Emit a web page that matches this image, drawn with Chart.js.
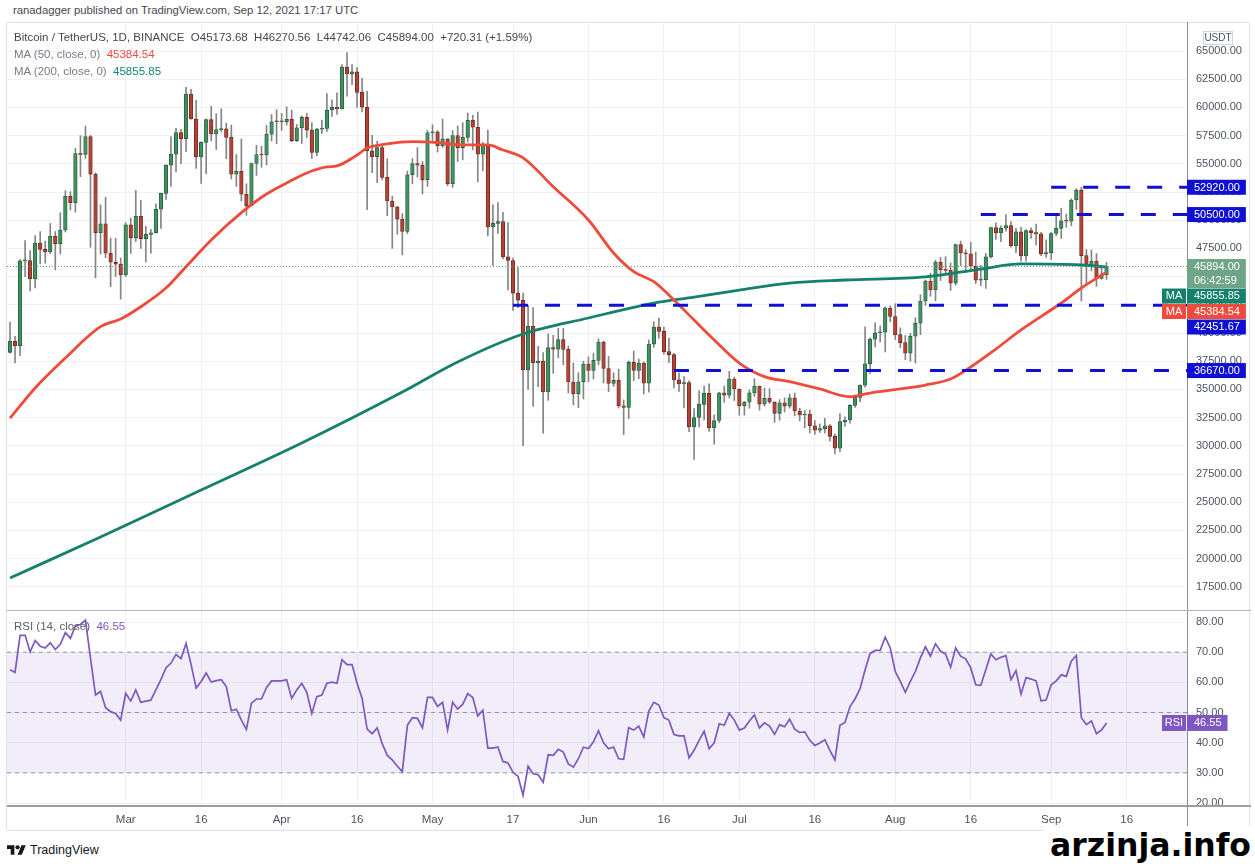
<!DOCTYPE html>
<html>
<head>
<meta charset="utf-8">
<script src="https://cdn.jsdelivr.net/npm/chart.js@4.4.1/dist/chart.umd.min.js"></script>
<style>
  html,body{margin:0;padding:0;background:#fff;}
  body{width:1255px;height:864px;overflow:hidden;position:relative;font-family:"Liberation Sans",Arial,sans-serif;}
  .abs{position:absolute;}
  #frame{left:6px;top:22px;width:1244px;height:809px;border:1px solid #e0e3eb;border-radius:3px;box-sizing:border-box;}
  #pw{left:7px;top:22px;width:1244px;height:589px;}
  #rw{left:7px;top:611px;width:1244px;height:221px;}
  .sep{background:#b2b5be;height:1px;}
  .txt{white-space:pre;font-size:11.5px;line-height:13px;}
  .g{color:#787b86;}
  #wm{right:4px;top:826px;font-family:"DejaVu Sans",sans-serif;font-weight:bold;font-size:31.5px;line-height:38px;color:#000;background:#fff;padding-left:6px;letter-spacing:0px;}
</style>
</head>
<body>
<div id="frame" class="abs"></div>
<div id="pw" class="abs"><canvas id="price"></canvas></div>
<div id="rw" class="abs"><canvas id="rsi"></canvas></div>
<div class="abs sep" style="left:7px;top:610px;width:1244px;"></div>
<div class="abs" style="left:7px;top:805px;width:1244px;height:2px;background:#9a9da4;"></div>
<div class="abs" style="left:1187px;top:806px;width:1px;height:26px;background:#8c8f97;"></div>

<div class="abs txt" style="left:13px;top:4px;color:#434651;font-size:11.3px;">ranadagger published on TradingView.com, Sep 12, 2021 17:17 UTC</div>
<div class="abs txt" style="left:14px;top:31px;color:#434651;">Bitcoin / TetherUS, 1D, BINANCE&nbsp; O45173.68&nbsp; H46270.56&nbsp; L44742.06&nbsp; C45894.00&nbsp; +720.31 (+1.59%)</div>
<div class="abs txt" style="left:14px;top:48px;"><span class="g">MA (50, close, 0)</span>&nbsp; <span style="color:#ef4b3c">45384.54</span></div>
<div class="abs txt" style="left:14px;top:65px;"><span class="g">MA (200, close, 0)</span>&nbsp; <span style="color:#15857a">45855.85</span></div>
<div class="abs txt" style="left:14px;top:620px;"><span style="color:#5d606b">RSI (14, close)</span>&nbsp; <span style="color:#7e57c2">46.55</span></div>

<div class="abs" style="left:7px;top:843px;">
  <svg width="19" height="14" viewBox="0 3 36 20"><path d="M14 22H7V11H0V4h14v18zM28 22h-8l7.5-18h8L28 22z" fill="#131722"/><circle cx="20" cy="8" r="4" fill="#131722"/></svg>
</div>
<div class="abs txt" style="left:30px;top:843px;font-size:12.5px;line-height:14px;color:#131722;">TradingView</div>
<div id="wm" class="abs">arzinja.info</div>

<script>
// ---------- DATA (day index 0 = 2021-02-06, daily candles BTC/USDT) ----------
const open = [
38290,39260,38870,46400,46420,44810,47970,47410,47190,48580,
47910,49130,52120,51550,55910,55840,57410,54090,48890,49680,
47070,46280,46110,45140,49590,48440,50350,48370,48750,48880,
50970,52380,54880,55850,57770,57220,61190,58970,55610,56900,
58910,57650,58030,58100,57350,54080,54340,52300,51290,55030,
55820,55780,57630,58730,58740,58720,58950,57060,58200,59130,
57990,56000,58080,58130,59770,60000,59860,63580,62960,63160,
61330,60010,56150,55630,56430,53790,51700,51190,50100,49000,
54030,55030,54880,53580,57750,57830,56610,57210,53240,57510,
56440,57350,58860,58240,55860,56700,49400,49720,49880,46760,
46430,43540,42910,36730,40600,37340,37520,34770,38710,38570,
39410,38550,35660,34610,35680,37250,36690,37570,39190,36850,
35520,35800,33550,33410,37390,36690,37340,35550,39020,40520,
40140,38350,38090,35840,35480,35600,31680,32510,33680,34660,
31600,32240,34700,34490,35910,35040,33540,33860,34690,35290,
33690,34220,33860,32880,33810,33510,34260,33090,32730,32820,
31780,31390,31530,31780,30840,29790,32140,32290,33580,34290,
35380,37270,39460,40020,40070,42210,41460,39850,39150,38210,
39720,40870,42840,44610,43820,46290,45590,45550,44420,47830,
47100,47020,45920,44690,44720,46760,49340,48870,49290,49530,
47710,48970,46840,49070,48900,48800,47020,47130,48820,49280,
49940,49920,51790,52660,46860,46070,46370,44850,45173.68];
const high = [
40960,39700,46500,48200,47310,48630,48990,48150,49710,49000,
50660,52620,52530,56370,57500,58350,57530,54180,51370,52040,
48420,48390,46650,49790,50200,52640,51770,49450,49200,51450,
52400,54900,57390,58150,58060,61790,61600,60630,56940,58980,
60100,59450,59880,58600,58430,55830,57200,53230,55080,56640,
56560,58400,59370,59800,59470,60050,59760,58490,59250,59480,
58650,58150,58880,61220,60670,61300,63800,64850,63800,63520,
62570,61430,57530,57000,56760,55450,52130,51200,50580,54360,
55460,56430,55200,57960,58460,57940,58970,57220,57950,58360,
58650,59500,59300,59590,56900,58000,51370,51560,50700,49800,
46640,45800,43550,42450,42250,38830,38270,39920,39800,40440,
40410,38850,37340,36490,37500,37890,38220,39480,39290,37920,
36480,36790,34070,37530,38400,37690,37440,39380,41000,41330,
40530,39560,38200,36460,36140,35750,33300,34880,35300,35500,
32730,34750,35300,36600,36100,35040,33940,34950,35950,35290,
35110,35060,33920,34100,34260,34600,34680,33340,33130,33180,
32250,31940,32440,31890,31040,32860,32580,33650,34500,35400,
40550,39540,40900,40640,42320,42410,42600,40460,39780,39970,
41350,43390,44700,45310,46450,46700,46780,46220,47890,48150,
47390,48050,47160,46000,47050,49380,49760,49500,50500,49870,
49280,49380,49170,49330,49650,48920,48250,48940,50450,51050,
50560,51900,52800,52920,47400,47360,47040,45970,46270.56];
const low = [
38220,37350,37990,45000,43730,43990,46130,46200,47040,45600,
47010,48950,50900,50710,53860,55480,47600,44890,47000,46670,
44110,45000,43000,45000,47050,48100,47500,46300,47070,48880,
49270,51840,53000,54270,55010,56080,58950,54600,53270,54120,
57030,56270,57820,55450,53650,53000,51700,50430,51290,53970,
54690,54900,57020,56770,57960,58430,56960,56960,56800,57330,
55470,55700,57700,57870,59200,59370,59860,61000,62020,60000,
59600,50930,54220,53330,53600,50400,47500,48750,46930,48810,
53220,53820,52330,53010,57060,56040,56440,53050,52900,55200,
55350,56930,56230,53400,54370,48600,46000,48820,46560,43830,
42000,42250,30000,35000,33490,35250,31110,34030,36420,37800,
37170,34680,33630,33380,34150,35670,35920,37170,35570,34800,
35260,33350,31000,32400,35780,35940,34600,34760,38730,39510,
38120,37370,35130,34820,33350,31250,28800,31680,32300,31270,
30150,32040,33860,34230,34020,32710,32700,33330,34370,33160,
33520,33770,32080,32260,33000,33330,32660,32200,31600,31130,
31020,31180,31120,30410,29280,29480,31710,32000,33400,33880,
35200,36400,38770,39200,38320,41000,39420,38690,37640,37510,
37330,39850,42450,43260,42850,44650,45350,43770,44250,45970,
45520,45650,44380,44200,43950,46640,48290,48100,49030,47600,
47120,46360,46360,48380,47800,46850,46700,46510,48630,48380,
49380,49500,50960,42840,44410,45510,44140,44760,44742.06];
const close = [
39260,38870,46400,46420,44810,47970,47410,47190,48580,47910,
49130,52120,51550,55910,55840,57410,54090,48890,49680,47070,
46280,46110,45140,49590,48440,50350,48370,48750,48880,50970,
52380,54880,55850,57770,57220,61190,58970,55610,56900,58910,
57650,58030,58100,57350,54080,54340,52300,51290,55030,55820,
55780,57630,58730,58740,58720,58950,57060,58200,59130,57990,
56000,58080,58130,59770,60000,59860,63580,62960,63160,61330,
60010,56150,55630,56430,53790,51700,51190,50100,49000,54030,
55030,54880,53580,57750,57830,56610,57210,53240,57510,56440,
57350,58860,58240,55860,56700,49400,49720,49880,46760,46430,
43540,42910,36730,40600,37340,37520,34770,38710,38570,39410,
38550,35660,34610,35680,37250,36690,37570,39190,36850,35520,
35800,33550,33410,37390,36690,37340,35550,39020,40520,40140,
38350,38090,35840,35480,35600,31680,32510,33680,34660,31600,
32240,34700,34490,35910,35040,33540,33860,34690,35290,33690,
34220,33860,32880,33810,33510,34260,33090,32730,32820,31780,
31390,31530,31780,30840,29790,32140,32290,33580,34290,35380,
37270,39460,40020,40070,42210,41460,39850,39150,38210,39720,
40870,42840,44610,43820,46290,45590,45550,44420,47830,47100,
47020,45920,44690,44720,46760,49340,48870,49290,49530,47710,
48970,46840,49070,48900,48800,47020,47130,48820,49280,49940,
49920,51790,52660,46860,46070,46370,44850,45170,45894.00];
const rsi = [
64.2,63.3,75.6,75.6,70.1,73.9,72.0,71.4,73.1,70.9,
72.6,76.5,74.6,78.7,79.2,80.6,68.0,55.8,57.0,51.6,
50.3,49.7,47.5,56.4,53.8,57.5,53.4,53.8,54.1,57.5,
60.9,64.8,66.4,69.2,67.9,72.9,65.9,58.1,60.3,63.1,
60.1,60.6,60.9,58.6,50.6,51.1,47.5,44.4,53.1,54.5,
54.5,58.3,60.5,60.5,60.5,60.9,54.7,57.5,59.7,56.7,
49.7,55.3,55.8,59.7,60.1,59.7,67.5,65.9,65.9,59.7,
54.7,44.5,43.0,44.9,39.7,35.8,34.3,32.2,30.4,45.8,
48.3,48.1,44.9,55.0,55.0,52.0,53.4,44.2,53.4,51.2,
52.7,56.3,55.0,48.9,50.8,38.2,38.2,38.6,33.8,33.3,
30.2,28.9,22.6,32.2,29.7,29.4,26.9,36.0,35.8,37.8,
36.9,33.0,31.9,34.7,38.5,38.1,40.3,44.0,40.0,38.0,
38.6,34.7,34.5,45.0,44.2,45.5,41.9,50.5,53.4,52.5,
48.3,47.5,42.7,42.3,42.3,35.0,37.5,40.8,43.8,38.0,
40.0,46.3,45.8,49.7,47.5,44.2,44.9,47.2,49.2,44.9,
46.6,45.5,42.8,46.0,45.3,47.8,44.5,43.4,43.6,40.8,
39.1,39.9,41.0,37.5,34.3,45.8,46.7,52.0,54.5,57.9,
64.2,69.6,70.6,70.6,75.0,71.4,63.6,60.3,56.7,60.3,
63.6,68.1,71.8,68.7,72.8,70.3,69.4,65.0,71.4,68.7,
67.8,64.8,59.2,59.0,64.2,69.4,67.5,68.3,68.9,60.9,
63.9,56.1,61.6,61.1,60.5,53.8,54.2,59.2,60.5,62.5,
62.0,67.0,68.9,48.3,46.0,47.2,43.0,44.2,46.55];
// moving averages (day index, value)
const ma50Days = [0,5,11,18,22,26,31,35,40,46,51,55,59,63,65,69,71,75,80,85,90,95,98,102,108,115,120,124,128,132,136,140,145,150,155,161,167,171,177,182,187,191,196,201,209,213,218];
const ma50 = [32450,35130,37780,40560,41240,42330,43990,45880,48250,50670,52320,53300,54190,54720,54810,55780,56400,56760,56960,56870,56670,56670,56220,55520,52970,50020,47090,45440,44550,42930,41150,39380,37340,36130,35680,35040,34350,34680,35040,35390,35920,36990,38580,40270,42660,43990,45384.54];
const ma200Days = [0,18,38,58,78,89,102,115,128,136,145,155,166,182,193,201,213,218];
const ma200 = [18280,21920,26080,30250,34770,37430,39910,41330,42660,43190,43810,44430,44700,44970,45670,46120,46030,45855.85];
// horizontal levels drawn by the author
const levelValues = [52920.00, 50500.00, 42451.67, 36670.00];
const levelStartDays = [207, 193, 100, 132];
// axes
const tickDays = [23,38,54,69,84,100,115,130,145,160,176,191,207,222];
const tickLabels = ['Mar','16','Apr','16','May','17','Jun','16','Jul','16','Aug','16','Sep','16'];
const priceTicks = [17500,20000,22500,25000,27500,30000,32500,35000,37500,40000,42500,45000,47500,50000,52500,55000,57500,60000,62500,65000];
const rsiTicks = [20,30,40,50,60,70,80];
const rsiBands = [70,50,30];
const countdown = '06:42:59';

// ---------- LAYOUT / STYLE ----------
const X_MIN = -0.6, X_MAX = 234.0;
const P_MIN = 15356, P_MAX = 67571;
const R_MIN = 19.03, R_MAX = 83.66;
const AXIS_W = 64;
const UP = '#43905f', UP_B = '#215a3b', DN = '#b04237', DN_B = '#6e261c', WICK = '#858585';
const BLUE = '#1010d4', TEAL = '#15806c', RED = '#ef4b3c', PURPLE = '#7e57c2';
const GRID = '#eef1f6', AXIS_LINE = '#8c8f97', TICK_C = '#4c525e';
const FONT = {family: 'Liberation Sans', size: 11};

const days = close.map((_, i) => i);
const last = close.length - 1;
const isUp = i => close[i] >= open[i];

function fixAxisY(scale){ scale.width = AXIS_W; scale.paddingTop = 0; scale.paddingBottom = 0; }
function fixAxisX(h){ return scale => { scale.height = h; scale.paddingLeft = 0; scale.paddingRight = 0; }; }
const xTicks = scale => { scale.ticks = tickDays.map(v => ({value: v})); };

const common = {
  responsive: true, maintainAspectRatio: false, animation: false, events: [],
  layout: {padding: 0, autoPadding: false},
  plugins: {legend: {display: false}, tooltip: {enabled: false}}
};

function drawBox(ctx, x, y, w, h, color){ ctx.fillStyle = color; ctx.fillRect(x, y, w, h); }

const priceLabels = {
  id: 'priceLabels',
  afterDraw(chart){
    const ctx = chart.ctx, ys = chart.scales.y, right = chart.chartArea.right;
    ctx.save();
    ctx.font = '11px "Liberation Sans", Arial';
    ctx.textBaseline = 'middle';
    // USDT unit box
    ctx.strokeStyle = '#d1d4dc'; ctx.lineWidth = 1;
    ctx.fillStyle = '#fff'; ctx.fillRect(right + 16.5, 9.5, 29, 13); ctx.strokeRect(right + 16.5, 9.5, 29, 13);
    ctx.fillStyle = '#4c525e'; ctx.font = '10px "Liberation Sans", Arial'; ctx.textAlign = 'center';
    ctx.fillText('USDT', right + 31, 16.5);
    ctx.font = '11px "Liberation Sans", Arial'; ctx.textAlign = 'left';
    const items = [];
    levelValues.forEach(v => items.push({v, color: BLUE}));
    items.push({v: close[last], color: '#6ea588', sub: countdown});
    items.push({v: ma200[ma200.length - 1], color: TEAL, tag: 'MA'});
    items.push({v: ma50[ma50.length - 1], color: RED, tag: 'MA'});
    items.forEach(it => { it.h = it.sub ? 29 : 15; it.top = ys.getPixelForValue(it.v) - 7.5; });
    items.sort((a, b) => a.top - b.top);
    let prev = -1e9;
    items.forEach(it => { if (it.top < prev) it.top = prev; prev = it.top + it.h + 0.5; });
    items.forEach(it => {
      const txt = it.v.toFixed(2);
      const w = ctx.measureText(txt).width + 13;
      drawBox(ctx, right, it.top, w, it.h, it.color);
      ctx.fillStyle = '#fff';
      ctx.fillText(txt, right + 7, it.top + 7.8);
      if (it.sub) ctx.fillText(it.sub, right + 7, it.top + 21.5);
      if (it.tag) {
        drawBox(ctx, right - 25, it.top, 24, it.h, it.color);
        ctx.fillStyle = '#fff'; ctx.textAlign = 'center';
        ctx.fillText(it.tag, right - 13, it.top + 7.8);
        ctx.textAlign = 'left';
      }
    });
    ctx.restore();
  }
};

const rsiLabels = {
  id: 'rsiLabels',
  afterDraw(chart){
    const ctx = chart.ctx, ys = chart.scales.y, right = chart.chartArea.right;
    const v = rsi[last], top = ys.getPixelForValue(v) - 8;
    ctx.save();
    ctx.font = '11px "Liberation Sans", Arial'; ctx.textBaseline = 'middle';
    const txt = v.toFixed(2), w = ctx.measureText(txt).width + 13;
    drawBox(ctx, right, top, w, 16, PURPLE);
    drawBox(ctx, right - 25, top, 24, 16, PURPLE);
    ctx.fillStyle = '#fff';
    ctx.textAlign = 'left'; ctx.fillText(txt, right + 7, top + 8.3);
    ctx.textAlign = 'center'; ctx.fillText('RSI', right - 13, top + 8.3);
    ctx.restore();
  }
};

// ---------- PRICE PANE ----------
const priceDatasets = [
  {label: 'wick', data: days.map(i => ({x: i, y: [low[i], high[i]]})), backgroundColor: WICK,
   barThickness: 1, grouped: false, order: 10},
  {label: 'body', data: days.map(i => ({x: i, y: [open[i], close[i]]})),
   backgroundColor: c => isUp(c.dataIndex) ? UP : DN, borderColor: c => isUp(c.dataIndex) ? UP_B : DN_B,
   borderWidth: 0.8, borderSkipped: false, barThickness: 3.6, grouped: false, minBarLength: 1, order: 9},
  {type: 'line', label: 'MA200', data: ma200Days.map((d, k) => ({x: d, y: ma200[k]})), borderColor: TEAL,
   borderWidth: 2.8, pointRadius: 0, cubicInterpolationMode: 'monotone', order: 6},
  {type: 'line', label: 'MA50', data: ma50Days.map((d, k) => ({x: d, y: ma50[k]})), borderColor: RED,
   borderWidth: 2.8, pointRadius: 0, cubicInterpolationMode: 'monotone', order: 5},
  {type: 'line', label: 'last', data: [{x: X_MIN, y: close[last]}, {x: X_MAX, y: close[last]}], borderColor: '#5f9c7d',
   borderWidth: 1, borderDash: [1, 2], pointRadius: 0, order: 4}
];
levelValues.forEach((v, k) => priceDatasets.push({
  type: 'line', label: 'level' + k, data: [{x: levelStartDays[k], y: v}, {x: X_MAX, y: v}],
  borderColor: BLUE, borderWidth: 3, borderDash: [15, 17], pointRadius: 0, order: 2
}));

new Chart(document.getElementById('price'), {
  type: 'bar',
  data: {datasets: priceDatasets},
  options: Object.assign({}, common, {
    scales: {
      x: {type: 'linear', min: X_MIN, max: X_MAX, offset: false,
          grid: {color: GRID, offset: false, drawTicks: false}, border: {display: false},
          ticks: {display: false}, afterBuildTicks: xTicks, afterFit: fixAxisX(0)},
      y: {position: 'right', min: P_MIN, max: P_MAX,
          grid: {color: GRID, drawTicks: false}, border: {display: true, color: AXIS_LINE, width: 1},
          ticks: {color: TICK_C, font: FONT, padding: 9, autoSkip: false, callback: v => v.toFixed(2)},
          afterBuildTicks: s => { s.ticks = priceTicks.map(v => ({value: v})); }, afterFit: fixAxisY}
    }
  }),
  plugins: [priceLabels]
});

// ---------- RSI PANE ----------
const rsiDatasets = [
  {label: 'RSI', data: days.map(i => ({x: i, y: rsi[i]})), borderColor: PURPLE, borderWidth: 1.7,
   pointRadius: 0, tension: 0, order: 1}
];
rsiBands.forEach((b, k) => rsiDatasets.push({
  label: 'band' + b, data: [{x: X_MIN, y: b}, {x: X_MAX, y: b}], borderColor: '#9598a1', borderWidth: 1,
  borderDash: [4, 4], pointRadius: 0, order: 3,
  fill: k === 0 ? {target: {value: rsiBands[rsiBands.length - 1]}} : false,
  backgroundColor: 'rgba(126,87,194,0.10)'
}));

new Chart(document.getElementById('rsi'), {
  type: 'line',
  data: {datasets: rsiDatasets},
  options: Object.assign({}, common, {
    scales: {
      x: {type: 'linear', min: X_MIN, max: X_MAX, offset: false,
          grid: {color: GRID, drawTicks: false}, border: {display: false},
          ticks: {color: TICK_C, font: {family: 'Liberation Sans', size: 11.5}, padding: 7, autoSkip: false, maxRotation: 0,
                  callback: (v, i) => tickLabels[i]},
          afterBuildTicks: xTicks, afterFit: fixAxisX(26)},
      y: {position: 'right', min: R_MIN, max: R_MAX,
          grid: {color: GRID, drawTicks: false}, border: {display: true, color: AXIS_LINE, width: 1},
          ticks: {color: TICK_C, font: FONT, padding: 9, autoSkip: false, callback: v => v.toFixed(2)},
          afterBuildTicks: s => { s.ticks = rsiTicks.map(v => ({value: v})); }, afterFit: fixAxisY}
    }
  }),
  plugins: [rsiLabels]
});
</script>
</body>
</html>
